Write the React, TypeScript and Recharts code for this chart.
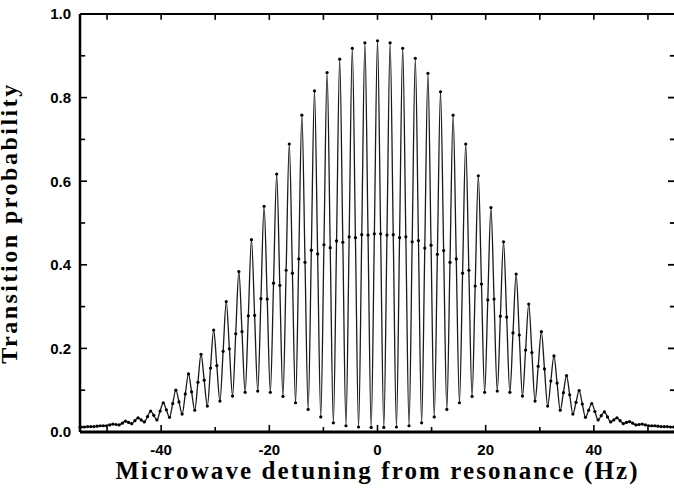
import { LineChart, Line, XAxis, YAxis, ReferenceLine, Label } from "recharts";

// Ramsey fringe scan (about 4 samples per fringe)
const detuning = [
  -55, -54.76, -54.17, -53.59, -53.01, -52.43, -51.84, -51.26, -50.68, -50.1, -49.51,
  -48.93, -48.35, -47.77, -47.18, -46.6, -46.02, -45.44, -44.85, -44.27, -43.69,
  -43.11, -42.52, -41.94, -41.36, -40.78, -40.19, -39.61, -39.03, -38.45, -37.86,
  -37.28, -36.7, -36.12, -35.53, -34.95, -34.37, -33.79, -33.2, -32.62, -32.04,
  -31.46, -30.87, -30.29, -29.71, -29.13, -28.54, -27.96, -27.38, -26.8, -26.21,
  -25.63, -25.05, -24.47, -23.88, -23.3, -22.72, -22.14, -21.55, -20.97, -20.39,
  -19.81, -19.22, -18.64, -18.06, -17.48, -16.89, -16.31, -15.73, -15.15, -14.56,
  -13.98, -13.4, -12.82, -12.23, -11.65, -11.07, -10.49, -9.9, -9.32, -8.74,
  -8.16, -7.57, -6.99, -6.41, -5.83, -5.24, -4.66, -4.08, -3.5, -2.91,
  -2.33, -1.75, -1.17, -0.58,
  0,
  0.58, 1.17, 1.75, 2.33, 2.91, 3.5, 4.08, 4.66, 5.24, 5.83,
  6.41, 6.99, 7.57, 8.16, 8.74, 9.32, 9.9, 10.49, 11.07, 11.65,
  12.23, 12.82, 13.4, 13.98, 14.56, 15.15, 15.73, 16.31, 16.89, 17.48,
  18.06, 18.64, 19.22, 19.81, 20.39, 20.97, 21.55, 22.14, 22.72, 23.3,
  23.88, 24.47, 25.05, 25.63, 26.21, 26.8, 27.38, 27.96, 28.54, 29.13,
  29.71, 30.29, 30.87, 31.46, 32.04, 32.62, 33.2, 33.79, 34.37, 34.95,
  35.53, 36.12, 36.7, 37.28, 37.86, 38.45, 39.03, 39.61, 40.19, 40.78,
  41.36, 41.94, 42.52, 43.11, 43.69, 44.27, 44.85, 45.44, 46.02, 46.6,
  47.18, 47.77, 48.35, 48.93, 49.51, 50.1, 50.68, 51.26, 51.84, 52.43,
  53.01, 53.59, 54.17, 54.76, 55,
];

const probability = [
  0.012, 0.012, 0.012, 0.013, 0.013, 0.013, 0.014, 0.015, 0.015, 0.015, 0.017,
  0.019, 0.018, 0.017, 0.021, 0.026, 0.023, 0.02, 0.027, 0.034, 0.029,
  0.024, 0.037, 0.05, 0.04, 0.029, 0.05, 0.07, 0.053, 0.035, 0.068,
  0.1, 0.072, 0.043, 0.091, 0.139, 0.096, 0.052, 0.119, 0.186, 0.124,
  0.062, 0.153, 0.244, 0.159, 0.074, 0.193, 0.312, 0.199, 0.086, 0.235,
  0.384, 0.24, 0.095, 0.278, 0.46, 0.279, 0.098, 0.319, 0.54, 0.318,
  0.095, 0.356, 0.617, 0.351, 0.085, 0.387, 0.689, 0.38, 0.07, 0.414,
  0.758, 0.406, 0.054, 0.435, 0.816, 0.426, 0.036, 0.448, 0.86, 0.441,
  0.022, 0.457, 0.892, 0.454, 0.015, 0.467, 0.918, 0.465, 0.012, 0.472,
  0.931, 0.471, 0.011, 0.474,
  0.936,
  0.474, 0.011, 0.471, 0.931, 0.472, 0.012, 0.465, 0.918, 0.467, 0.015,
  0.455, 0.894, 0.458, 0.022, 0.44, 0.858, 0.447, 0.036, 0.425, 0.814,
  0.434, 0.054, 0.406, 0.758, 0.414, 0.07, 0.38, 0.689, 0.387, 0.085,
  0.349, 0.613, 0.354, 0.095, 0.316, 0.537, 0.318, 0.098, 0.277, 0.455,
  0.275, 0.095, 0.237, 0.378, 0.232, 0.086, 0.196, 0.306, 0.19, 0.074,
  0.157, 0.24, 0.151, 0.062, 0.122, 0.182, 0.117, 0.052, 0.094, 0.135,
  0.089, 0.043, 0.071, 0.099, 0.067, 0.035, 0.052, 0.068, 0.049, 0.029,
  0.039, 0.048, 0.036, 0.024, 0.029, 0.034, 0.027, 0.02, 0.023, 0.025,
  0.021, 0.017, 0.018, 0.019, 0.017, 0.015, 0.015, 0.015, 0.014, 0.013,
  0.013, 0.013, 0.012, 0.012, 0.012,
];

const xTicks = [-50, -40, -30, -20, -10, 0, 10, 20, 30, 40, 50];
const yTicks = [0, 0.1, 0.2, 0.3, 0.4, 0.5, 0.6, 0.7, 0.8, 0.9, 1.0];

const X_MIN = -55;
const X_MAX = 55;

const data = detuning.map((x, i) => ({ x, p: probability[i] }));

const isMajorX = (v: number) => v % 20 === 0;
const isMajorY = (v: number) => Math.round(v * 10) % 2 === 0;

const tickStyle = {
  fontFamily: "'Liberation Sans', Arial, sans-serif",
  fontWeight: 700,
  fontSize: 15,
  fill: "#000",
};
const titleStyle = {
  fontFamily: "'Liberation Serif', 'Times New Roman', serif",
  fontWeight: 700,
  fill: "#000",
};

const xLabel = (v: number) => (isMajorX(v) && Math.abs(v) <= 40 ? String(v) : "");
const yLabel = (v: number) => (isMajorY(v) ? v.toFixed(1) : "");

export default function App() {
  return (
    <div style={{ position: "absolute", left: 0, top: 0, width: 674, height: 493, overflow: "hidden", background: "#fff" }}>
      <LineChart width={690} height={493} data={data} margin={{ top: 14, right: 15, left: 0, bottom: 0 }}>
        <XAxis
          dataKey="x"
          type="number"
          domain={[X_MIN, X_MAX]}
          ticks={xTicks}
          interval={0}
          height={61}
          stroke="#000"
          axisLine={{ stroke: "#000", strokeWidth: 3 }}
          tickLine={false}
          tickSize={0}
          tickMargin={12}
          tickFormatter={xLabel}
          tick={tickStyle}
        >
          <Label
            value="Microwave detuning from resonance (Hz)"
            position="insideBottom"
            offset={14}
            style={{ ...titleStyle, fontSize: 25, letterSpacing: 2.1 }}
          />
        </XAxis>
        <YAxis
          type="number"
          domain={[0, 1]}
          ticks={yTicks}
          interval={0}
          width={80}
          stroke="#000"
          axisLine={{ stroke: "#000", strokeWidth: 2.5 }}
          tickLine={false}
          tickSize={0}
          tickMargin={9}
          tickFormatter={yLabel}
          tick={tickStyle}
        >
          <Label
            value="Transition probability"
            angle={-90}
            position="insideLeft"
            offset={8}
            style={{ ...titleStyle, fontSize: 24, letterSpacing: 2.5, textAnchor: "middle" }}
          />
        </YAxis>

        {/* top edge of the frame */}
        <ReferenceLine y={1} stroke="#000" strokeWidth={2} ifOverflow="visible" />

        {/* inward ticks on the bottom and top edges */}
        {xTicks.map((v) => (
          <ReferenceLine
            key={`b${v}`}
            segment={[{ x: v, y: 0 }, { x: v, y: isMajorX(v) ? 0.017 : 0.012 }]}
            stroke="#000"
            strokeWidth={1.6}
            ifOverflow="visible"
          />
        ))}
        {xTicks.map((v) => (
          <ReferenceLine
            key={`t${v}`}
            segment={[{ x: v, y: 1 }, { x: v, y: 0.986 }]}
            stroke="#000"
            strokeWidth={1.6}
            ifOverflow="visible"
          />
        ))}

        {/* inward ticks on the left and right edges */}
        {yTicks.map((v) => (
          <ReferenceLine
            key={`l${v}`}
            segment={[{ x: X_MIN, y: v }, { x: X_MIN + (isMajorY(v) ? 1.3 : 0.95), y: v }]}
            stroke="#000"
            strokeWidth={1.6}
            ifOverflow="visible"
          />
        ))}
        {yTicks.map((v) => (
          <ReferenceLine
            key={`r${v}`}
            segment={[{ x: X_MAX, y: v }, { x: X_MAX - (isMajorY(v) ? 1.3 : 0.95), y: v }]}
            stroke="#000"
            strokeWidth={1.8}
            ifOverflow="visible"
          />
        ))}

        <Line
          type="monotone"
          dataKey="p"
          stroke="#1a1a1a"
          strokeWidth={1.3}
          dot={{ r: 1.6, fill: "#000", stroke: "#000", strokeWidth: 0 }}
          activeDot={false}
          isAnimationActive={false}
        />
      </LineChart>
    </div>
  );
}
